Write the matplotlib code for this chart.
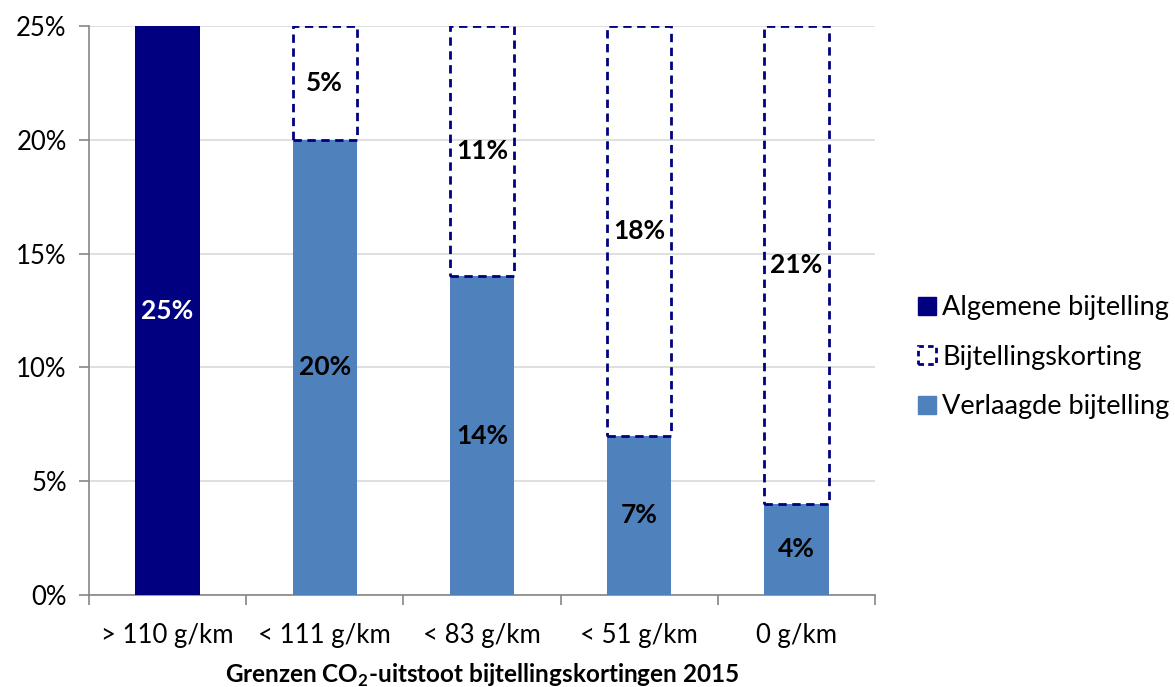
import matplotlib
matplotlib.use("Agg")
import matplotlib.pyplot as plt
from matplotlib.patches import Patch

plt.rcParams['font.family'] = ['Lato', 'DejaVu Sans']
plt.rcParams['mathtext.fontset'] = 'custom'
plt.rcParams['mathtext.rm'] = 'Lato'
plt.rcParams['mathtext.bf'] = 'Lato:bold'

# data
categories = ['> 110 g/km', '< 111 g/km', '< 83 g/km', '< 51 g/km', '0 g/km']
algemeen = [25, 0, 0, 0, 0]
verlaagd = [0, 20, 14, 7, 4]
korting = [0, 5, 11, 18, 21]

dark = '#000080'
mid = '#4F81BD'

fig = plt.figure(figsize=(11.75, 6.87), dpi=100)
ax = fig.add_axes([0.0757, 0.134, 0.669, 0.828])

x = list(range(len(categories)))
w = 0.41
ax.bar(x, algemeen, width=w, color=dark, zorder=3)
ax.bar(x, verlaagd, width=w, color=mid, zorder=3)
ax.bar(x, korting, width=w, bottom=verlaagd, facecolor='none',
       edgecolor=dark, linestyle=(0, (3, 2)), linewidth=2, zorder=4)

# labels
for i in x:
    if algemeen[i]:
        ax.text(i, algemeen[i] / 2, f'{algemeen[i]}%', ha='center', va='center',
                color='white', fontsize=19, fontweight='bold', zorder=5)
    if verlaagd[i]:
        ax.text(i, verlaagd[i] / 2, f'{verlaagd[i]}%', ha='center', va='center',
                color='black', fontsize=19, fontweight='bold', zorder=5)
    if korting[i]:
        ax.text(i, verlaagd[i] + korting[i] / 2, f'{korting[i]}%', ha='center',
                va='center', color='black', fontsize=19, fontweight='bold', zorder=5)

ax.set_xlim(-0.5, len(categories) - 0.5)
ax.set_ylim(0, 25)
ax.set_yticks(range(0, 26, 5))
ax.set_yticklabels([f'{v}%' for v in range(0, 26, 5)], fontsize=18.5)
ax.yaxis.grid(True, color='#D9D9D9', linewidth=1.2, zorder=0)
ax.set_axisbelow(True)

ax.set_xticks(x)
ax.set_xticklabels(categories, fontsize=18.5)
ax.set_xticks([i + 0.5 for i in range(-1, len(categories))], minor=True)
ax.tick_params(axis='x', which='major', length=0, pad=20)
ax.tick_params(axis='x', which='minor', length=7, color='#868686', width=1.2)
ax.tick_params(axis='y', length=7, color='#868686', width=1.2, pad=9)

for s in ['top', 'right']:
    ax.spines[s].set_visible(False)
for s in ['left', 'bottom']:
    ax.spines[s].set_color('#868686')
    ax.spines[s].set_linewidth(1.2)

ax.set_xlabel(r'Grenzen CO$_\mathbf{2}$-uitstoot bijtellingskortingen 2015',
              fontsize=17.5, fontweight='bold', labelpad=10)

handles = [
    Patch(facecolor=dark, edgecolor=dark, label='Algemene bijtelling'),
    Patch(facecolor='none', edgecolor=dark, linestyle=(0, (2, 1.5)), linewidth=2,
          label='Bijtellingskorting'),
    Patch(facecolor=mid, edgecolor=mid, label='Verlaagde bijtelling'),
]
fig.legend(handles=handles, loc='center left', bbox_to_anchor=(0.772, 0.48),
           frameon=False, fontsize=19.5, handlelength=0.65, handleheight=0.65,
           handletextpad=0.25, labelspacing=0.9, borderaxespad=0)

fig.savefig('out.png', dpi=100)
